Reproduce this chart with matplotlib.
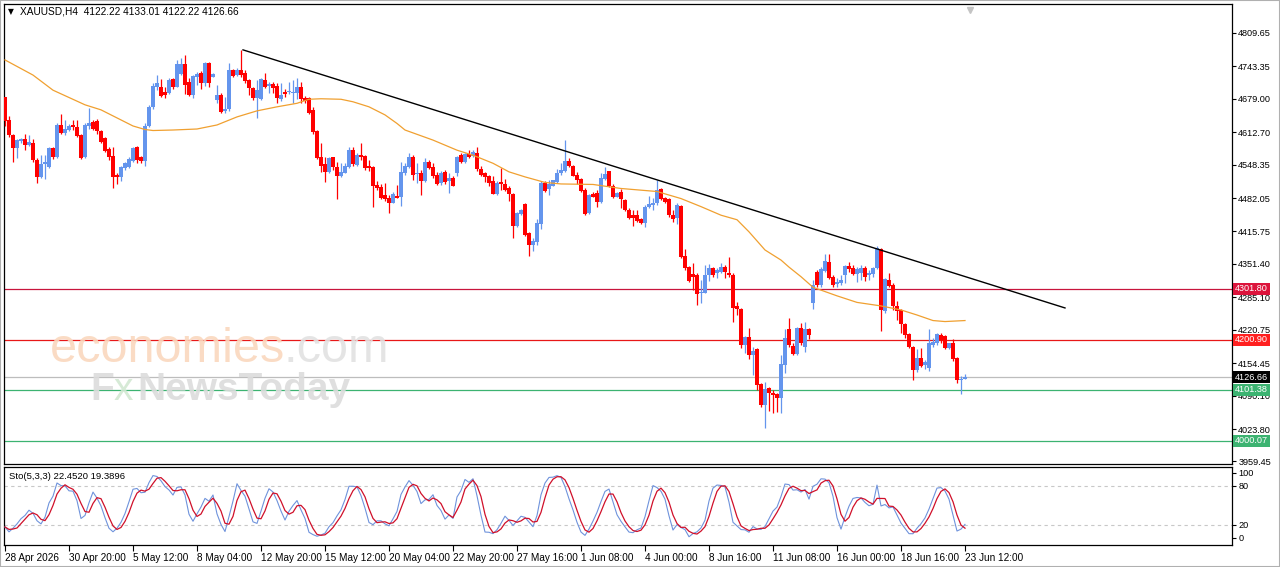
import numpy as np
import pandas as pd
import matplotlib
matplotlib.use('Agg')
import matplotlib.pyplot as plt
import matplotlib.transforms as mtransforms

plt.rcParams['font.family'] = ['Liberation Sans', 'DejaVu Sans']

# XAUUSD H4 candles (oldest first)
opens = [4682, 4636, 4607, 4581, 4596, 4600, 4587, 4592, 4558, 4523, 4550, 4544, 4582, 4563, 4627, 4612,
         4618, 4627, 4622, 4607, 4563, 4625, 4632, 4634, 4616, 4602, 4579, 4565, 4528, 4524, 4541, 4544,
         4556, 4584, 4563, 4556, 4625, 4663, 4703, 4703, 4693, 4691, 4718, 4703, 4729, 4748, 4713, 4686,
         4723, 4730, 4710, 4749, 4723, 4677, 4686, 4655, 4658, 4737, 4726, 4737, 4730, 4716, 4700, 4680,
         4678, 4716, 4704, 4708, 4704, 4679, 4693, 4692, 4690, 4690, 4703, 4680, 4680, 4657, 4616, 4563,
         4550, 4534, 4563, 4544, 4526, 4532, 4544, 4577, 4548, 4568, 4566, 4546, 4543, 4508, 4503, 4488,
         4483, 4473, 4486, 4484, 4531, 4544, 4564, 4529, 4532, 4515, 4554, 4544, 4528, 4511, 4534, 4515,
         4521, 4532, 4568, 4554, 4570, 4566, 4571, 4539, 4531, 4525, 4515, 4490, 4513, 4510, 4501, 4491,
         4427, 4451, 4470, 4412, 4389, 4394, 4431, 4511, 4499, 4506, 4513, 4531, 4536, 4556, 4546, 4528,
         4519, 4498, 4452, 4490, 4492, 4475, 4519, 4535, 4505, 4485, 4495, 4478, 4458, 4449, 4449, 4440,
         4433, 4464, 4468, 4472, 4499, 4482, 4480, 4449, 4442, 4466, 4367, 4346, 4331, 4329, 4293, 4294,
         4329, 4343, 4333, 4336, 4346, 4334, 4329, 4267, 4261, 4191, 4206, 4171, 4182, 4113, 4071, 4105,
         4096, 4093, 4085, 4151, 4222, 4189, 4173, 4224, 4187, 4222, 4273, 4336, 4310, 4338, 4356, 4326,
         4312, 4314, 4329, 4347, 4343, 4331, 4334, 4343, 4329, 4331, 4343, 4380, 4257, 4319, 4310, 4268,
         4260, 4232, 4212, 4186, 4140, 4164, 4151, 4144, 4191, 4194, 4210, 4208, 4184, 4194, 4164, 4121,
         4122.22]
highs = [4683, 4645, 4610, 4600, 4602, 4610, 4607, 4600, 4561, 4567, 4567, 4584, 4584, 4630, 4649, 4637,
         4629, 4637, 4636, 4610, 4630, 4661, 4637, 4638, 4618, 4604, 4584, 4584, 4531, 4546, 4554, 4563,
         4584, 4585, 4565, 4630, 4667, 4710, 4726, 4718, 4702, 4720, 4720, 4756, 4759, 4766, 4720, 4726,
         4733, 4735, 4751, 4751, 4730, 4706, 4690, 4682, 4749, 4739, 4741, 4776, 4736, 4718, 4703, 4716,
         4720, 4730, 4713, 4713, 4711, 4711, 4698, 4713, 4716, 4720, 4713, 4684, 4682, 4663, 4618, 4591,
         4564, 4564, 4564, 4554, 4552, 4551, 4584, 4583, 4571, 4591, 4568, 4558, 4546, 4515, 4510, 4511,
         4488, 4495, 4508, 4554, 4551, 4571, 4568, 4551, 4538, 4561, 4558, 4551, 4534, 4536, 4538, 4531,
         4525, 4566, 4571, 4572, 4577, 4577, 4583, 4546, 4533, 4528, 4525, 4515, 4541, 4519, 4505, 4493,
         4455, 4460, 4472, 4415, 4402, 4440, 4515, 4515, 4518, 4518, 4539, 4551, 4597, 4561, 4548, 4534,
         4521, 4501, 4491, 4495, 4498, 4531, 4544, 4536, 4510, 4495, 4499, 4480, 4462, 4458, 4458, 4442,
         4468, 4486, 4482, 4517, 4501, 4485, 4482, 4458, 4472, 4468, 4380, 4347, 4354, 4333, 4319, 4349,
         4351, 4346, 4343, 4353, 4349, 4366, 4333, 4276, 4263, 4208, 4224, 4187, 4184, 4116, 4118, 4108,
         4101, 4095, 4171, 4222, 4245, 4194, 4227, 4234, 4237, 4224, 4319, 4339, 4346, 4371, 4372, 4329,
         4323, 4329, 4349, 4356, 4349, 4346, 4349, 4347, 4339, 4346, 4386, 4382, 4323, 4333, 4313, 4277,
         4261, 4235, 4214, 4189, 4182, 4184, 4161, 4222, 4204, 4215, 4214, 4210, 4195, 4202, 4166, 4128,
         4133.01]
lows = [4624, 4604, 4554, 4561, 4592, 4577, 4585, 4554, 4511, 4521, 4519, 4541, 4559, 4561, 4610, 4607,
        4616, 4617, 4604, 4560, 4561, 4620, 4617, 4610, 4592, 4574, 4558, 4501, 4510, 4515, 4538, 4541,
        4554, 4552, 4552, 4546, 4622, 4658, 4696, 4682, 4680, 4688, 4698, 4702, 4726, 4688, 4685, 4680,
        4706, 4698, 4704, 4703, 4722, 4670, 4650, 4651, 4655, 4722, 4724, 4723, 4710, 4686, 4677, 4640,
        4677, 4700, 4691, 4690, 4670, 4675, 4682, 4689, 4670, 4678, 4670, 4670, 4649, 4609, 4559, 4534,
        4513, 4531, 4538, 4481, 4523, 4531, 4541, 4546, 4546, 4558, 4538, 4536, 4465, 4498, 4481, 4477,
        4453, 4472, 4482, 4466, 4528, 4541, 4518, 4511, 4488, 4513, 4539, 4521, 4508, 4508, 4510, 4493,
        4505, 4525, 4551, 4552, 4561, 4564, 4536, 4525, 4513, 4506, 4490, 4488, 4498, 4497, 4477, 4402,
        4425, 4449, 4407, 4367, 4376, 4389, 4420, 4495, 4488, 4505, 4511, 4528, 4534, 4543, 4525, 4510,
        4495, 4449, 4451, 4484, 4464, 4472, 4517, 4503, 4482, 4484, 4462, 4457, 4440, 4427, 4435, 4431,
        4425, 4462, 4458, 4468, 4478, 4473, 4445, 4435, 4431, 4364, 4339, 4316, 4300, 4270, 4273, 4293,
        4318, 4326, 4323, 4333, 4323, 4326, 4237, 4250, 4184, 4174, 4162, 4131, 4101, 4068, 4025, 4060,
        4055, 4058, 4055, 4134, 4187, 4171, 4171, 4191, 4177, 4202, 4261, 4306, 4306, 4336, 4321, 4306,
        4306, 4310, 4314, 4336, 4329, 4316, 4319, 4318, 4319, 4325, 4341, 4219, 4253, 4305, 4260, 4241,
        4215, 4204, 4184, 4121, 4136, 4146, 4142, 4138, 4187, 4191, 4194, 4182, 4182, 4159, 4116, 4093,
        4122.22]
closes = [4634, 4607, 4581, 4597, 4599, 4587, 4594, 4558, 4523, 4550, 4554, 4582, 4563, 4627, 4612, 4620,
          4625, 4622, 4605, 4561, 4627, 4630, 4620, 4616, 4594, 4575, 4564, 4523, 4523, 4543, 4551, 4559,
          4582, 4558, 4556, 4625, 4663, 4704, 4711, 4684, 4686, 4716, 4702, 4748, 4748, 4706, 4686, 4724,
          4729, 4710, 4749, 4710, 4728, 4686, 4653, 4659, 4737, 4724, 4737, 4726, 4715, 4700, 4680, 4696,
          4718, 4703, 4708, 4700, 4680, 4687, 4688, 4695, 4693, 4702, 4678, 4675, 4651, 4614, 4561, 4546,
          4534, 4561, 4544, 4526, 4534, 4546, 4577, 4550, 4568, 4563, 4541, 4541, 4505, 4501, 4483, 4481,
          4473, 4490, 4483, 4534, 4546, 4563, 4528, 4532, 4515, 4554, 4541, 4526, 4510, 4532, 4513, 4521,
          4506, 4563, 4553, 4570, 4564, 4574, 4539, 4528, 4523, 4511, 4491, 4511, 4510, 4498, 4491, 4427,
          4453, 4458, 4409, 4389, 4396, 4432, 4511, 4497, 4510, 4517, 4532, 4538, 4556, 4546, 4526, 4518,
          4497, 4451, 4488, 4485, 4475, 4521, 4530, 4505, 4485, 4493, 4480, 4458, 4442, 4442, 4437, 4432,
          4465, 4470, 4473, 4498, 4480, 4475, 4449, 4440, 4468, 4366, 4343, 4318, 4326, 4292, 4296, 4329,
          4343, 4329, 4339, 4345, 4336, 4329, 4263, 4261, 4191, 4206, 4171, 4179, 4111, 4071, 4103, 4096,
          4091, 4085, 4153, 4204, 4191, 4173, 4224, 4194, 4222, 4210, 4310, 4310, 4341, 4358, 4323, 4310,
          4316, 4319, 4347, 4341, 4331, 4341, 4343, 4326, 4334, 4343, 4382, 4260, 4321, 4308, 4267, 4257,
          4232, 4210, 4186, 4140, 4164, 4149, 4157, 4194, 4197, 4212, 4200, 4184, 4194, 4162, 4121, 4122,
          4126.66]

# orange moving average, sampled along the line (bar index, price)
ma_bars = [0, 7, 12, 20, 24, 28, 32, 35, 37, 42, 48, 53, 58, 63, 68, 73, 76, 79, 84, 87, 91, 95, 98,
           100, 107, 113, 117, 122, 126, 130, 135, 139, 147, 154, 163, 169, 174, 179, 183, 186, 190, 194,
           196, 199, 202, 208, 213, 219, 224, 228, 232, 235, 240]
ma_values = [4756, 4726, 4696, 4667, 4657, 4641, 4625, 4618, 4616, 4617, 4619, 4627, 4643, 4655, 4663,
             4670, 4678, 4679, 4678, 4673, 4663, 4647, 4630, 4617, 4597, 4577, 4567, 4551, 4534, 4524,
             4513, 4510, 4509, 4501, 4495, 4481, 4465, 4448, 4439, 4415, 4379, 4359, 4345, 4326, 4305,
             4288, 4275, 4268, 4260, 4250, 4239, 4237, 4239]

trend_bars = [59.5, 265]
trend_prices = [4776, 4264]

levels = [4301.80, 4200.90, 4126.66, 4101.38, 4000.07]
level_line_colors = ['#C8143C', '#E81818', '#BDBDBD', '#3CB371', '#3CB371']
level_box_colors = ['#DC143C', '#FF2020', '#000000', '#3CB371', '#3CB371']

price_ticks = [4809.65, 4743.35, 4679.00, 4612.70, 4548.35, 4482.05, 4415.75, 4351.40,
               4285.10, 4220.75, 4154.45, 4090.10, 4023.80, 3959.45]
date_labels = ['28 Apr 2026', '30 Apr 20:00', '5 May 12:00', '8 May 04:00', '12 May 20:00',
               '15 May 12:00', '20 May 04:00', '22 May 20:00', '27 May 16:00', '1 Jun 08:00',
               '4 Jun 00:00', '8 Jun 16:00', '11 Jun 08:00', '16 Jun 00:00', '18 Jun 16:00', '23 Jun 12:00']

df = pd.DataFrame({'open': opens, 'high': highs, 'low': lows, 'close': closes})
x = np.arange(len(df))

# Stochastic(5,3,3) computed from the candles, the same way MT4 does
ll = df['low'].rolling(5, min_periods=1).min()
hh = df['high'].rolling(5, min_periods=1).max()
sto_main = 100 * (df['close'] - ll).rolling(3, min_periods=1).sum() / (hh - ll).rolling(3, min_periods=1).sum()
sto_signal = sto_main.rolling(3, min_periods=1).mean()

W, H = 1280, 567
def box(x0, y0, x1, y1):
    return [x0 / W, 1 - y1 / H, (x1 - x0) / W, (y1 - y0) / H]

fig = plt.figure(figsize=(W / 100, H / 100), dpi=100)
ax = fig.add_axes(box(4, 4, 1232, 464))
ax2 = fig.add_axes(box(4, 467, 1232, 545))

# candles
up = df['close'] >= df['open']
colors = np.where(up, '#6495ED', '#FF0000')
ax.vlines(x, df['low'], df['high'], colors=colors, lw=0.9, zorder=3)
body_bottom = np.minimum(df['open'], df['close'])
body_height = np.maximum((df['close'] - df['open']).abs(), 1.5)
ax.bar(x, body_height, bottom=body_bottom, width=0.8, color=colors, linewidth=0, zorder=4)

ax.plot(ma_bars, ma_values, color='#F0A030', lw=0.9, zorder=5)
ax.plot(trend_bars, trend_prices, color='black', lw=1.0, zorder=5)

trans = mtransforms.blended_transform_factory(ax.transAxes, ax.transData)
for lvl, lc, bc in zip(levels, level_line_colors, level_box_colors):
    ax.axhline(lvl, color=lc, lw=0.9, zorder=2)
    ax.text(1.0025, lvl, f'{lvl:.2f}', transform=trans, va='center', ha='left', color='white',
            fontsize=6.6, zorder=10, clip_on=False,
            bbox=dict(boxstyle='square,pad=0.18', fc=bc, ec='none'))

ax.set_xlim(-0.25, 306.75)
ax.set_ylim(3954.4, 4867)
ax.set_xticks([])
ax.yaxis.tick_right()
ax.set_yticks(price_ticks)
ax.set_yticklabels([f'{v:.2f}' for v in price_ticks])
ax.tick_params(axis='y', direction='out', length=3, width=0.8, labelsize=6.6, pad=1.5)

# chart shift marker
ax.plot([241.3], [0.986], marker='v', color='#C4C4C4', markersize=5,
        transform=mtransforms.blended_transform_factory(ax.transData, ax.transAxes), clip_on=False)

# stochastic panel
ax2.plot(x, sto_main, color='#6F93DC', lw=0.8, zorder=3)
ax2.plot(x, sto_signal, color='#D0102A', lw=0.9, zorder=4)
for lvl in [80, 20]:
    ax2.axhline(lvl, color='#C8C8C8', lw=0.8, ls=(0, (3, 3)), zorder=1)
ax2.set_xlim(-0.25, 306.75)
ax2.set_ylim(-10.8, 109.2)
ax2.yaxis.tick_right()
ax2.set_yticks([0, 20, 80, 100])
ax2.set_yticklabels(['0', '20', '80', '100'])
ax2.tick_params(axis='y', direction='out', length=3, width=0.8, labelsize=6.6, pad=1.5)
ax2.set_xticks(np.arange(len(date_labels)) * 16)
ax2.set_xticklabels(date_labels, ha='left')
ax2.tick_params(axis='x', direction='out', length=4, width=0.8, labelsize=7.2, pad=1.5)
ax2.text(0.004, 0.93, 'Sto(5,3,3) 22.4520 19.3896', transform=ax2.transAxes, fontsize=6.8,
         va='top', ha='left')

for a in (ax, ax2):
    for s in a.spines.values():
        s.set_linewidth(0.9)

# header
fig.text(8 / W, 1 - 12 / H, '\u25bc', fontsize=5.5, va='center', ha='left', family=['DejaVu Sans'])
fig.text(20 / W, 1 - 12 / H, 'XAUUSD,H4  4122.22 4133.01 4122.22 4126.66', fontsize=7.3,
         va='center', ha='left')

# watermark
fig.text(50 / W, 1 - 362 / H, 'economies', fontsize=35, color='#FAD8BE', alpha=0.9,
         va='baseline', ha='left')
fig.text(284 / W, 1 - 362 / H, '.com', fontsize=35, color='#E2E2E2', alpha=0.9,
         va='baseline', ha='left')
fig.text(90 / W, 1 - 400 / H, 'F', fontsize=28, fontweight='bold', color='#DCDCDC', alpha=0.9,
         va='baseline', ha='left')
fig.text(114 / W, 1 - 400 / H, 'x', fontsize=28, color='#D2E8D2', alpha=0.9,
         va='baseline', ha='left')
fig.text(137 / W, 1 - 400 / H, 'NewsToday', fontsize=28, fontweight='bold', color='#DCDCDC',
         alpha=0.9, va='baseline', ha='left')

# window frame
fig.patches.append(plt.Rectangle((0, 0), 1, 1, transform=fig.transFigure, fill=False,
                                 ec='#B0B0B0', lw=1.5))

fig.savefig('out.png', dpi=100)
